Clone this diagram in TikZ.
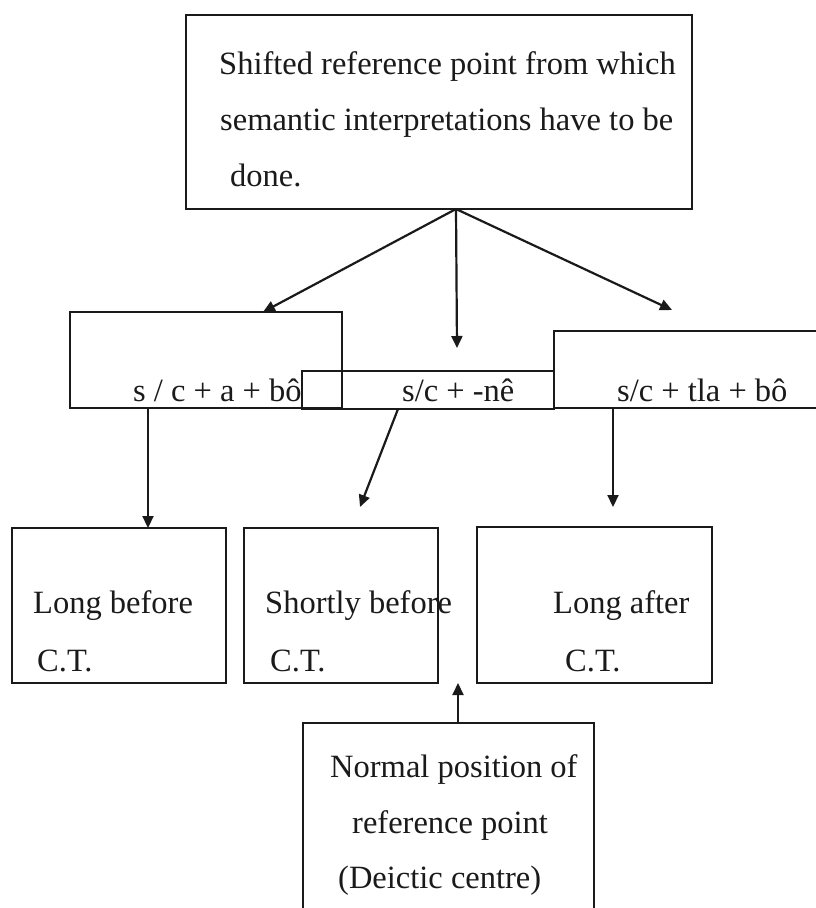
\documentclass[tikz,border=0pt]{standalone}
\usepackage{fontspec}
\setmainfont{Liberation Serif}
\usetikzlibrary{arrows.meta,calc}
\definecolor{ink}{HTML}{1A1A1A}
\begin{document}
\begin{tikzpicture}[x=1pt,y=-1pt,
  box/.style={draw=ink, line width=2.8pt, anchor=north west, inner sep=0pt, outer sep=0pt},
  lbl/.style={anchor=base west, inner sep=0pt, text=ink, font=\fontsize{32.5}{39}\selectfont},
  arr/.style={draw=ink, line width=2.2pt, -{Triangle[length=12pt,width=11pt]}}]
\useasboundingbox (0,0) rectangle (816,908);
\clip (0,0) rectangle (816,908);

% boxes
\node[box, minimum width=506pt, minimum height=194pt] (shift) at (186,15) {};
\node[box, minimum width=272pt, minimum height=96pt]  (abo)   at (70,312) {};
\node[box, minimum width=252pt, minimum height=38pt]  (ne)    at (302,371) {};
\node[box, minimum width=272pt, minimum height=77pt]  (tla)   at (554,331) {};
\node[box, minimum width=214pt, minimum height=155pt] (longb) at (12,528) {};
\node[box, minimum width=194pt, minimum height=155pt] (short) at (244,528) {};
\node[box, minimum width=235pt, minimum height=156pt] (longa) at (477,527) {};
\node[box, minimum width=291pt, minimum height=200pt] (deix)  at (303,723) {};

% texts
\node[lbl] (t1) at (219,74)  {Shifted reference point from which};
\node[lbl] (t2) at (220,130) {semantic interpretations have to be};
\node[lbl] (t3) at (230,186) {done.};
\node[lbl] (t4) at (133,401) {s / c + a + bô};
\node[lbl] (t5) at (402,401) {s/c + -nê};
\node[lbl] (t6) at (617,401) {s/c + tla + bô};
\node[lbl] (t7) at (33,613)  {Long before};
\node[lbl] (t8) at (37,671)  {C.T.};
\node[lbl] (t9) at (265,613) {Shortly before};
\node[lbl] (t10) at (270,671) {C.T.};
\node[lbl] (t11) at (553,613) {Long after};
\node[lbl] (t12) at (565,671) {C.T.};
\node[lbl] (t13) at (330,777) {Normal position of};
\node[lbl] (t14) at (352,833) {reference point};
\node[lbl] (t15) at (338,888) {(Deictic centre)};

% free arrow ends
\coordinate (apex) at ($(shift.south west)+(270,0)$);
\coordinate (netip) at (457,348);
\coordinate (tlatip) at (672,310);
\coordinate (shorttip) at (360,507);
\coordinate (afttip) at (613,507);
\coordinate (ctip) at (458,683);

% connectors
\draw[arr] (apex) -- ($(abo.north west)+(193,0)$);
\draw[arr] (apex) -- (netip);
\draw[arr] (apex) -- (tlatip);
\draw[arr] ($(abo.south west)+(78,0)$) -- ($(longb.north west)+(136,0)$);
\draw[arr] ($(ne.south west)+(96,0)$) -- (shorttip);
\draw[arr] ($(tla.south west)+(59,0)$) -- (afttip);
\draw[arr] ($(deix.north west)+(155,0)$) -- (ctip);
\end{tikzpicture}
\end{document}
